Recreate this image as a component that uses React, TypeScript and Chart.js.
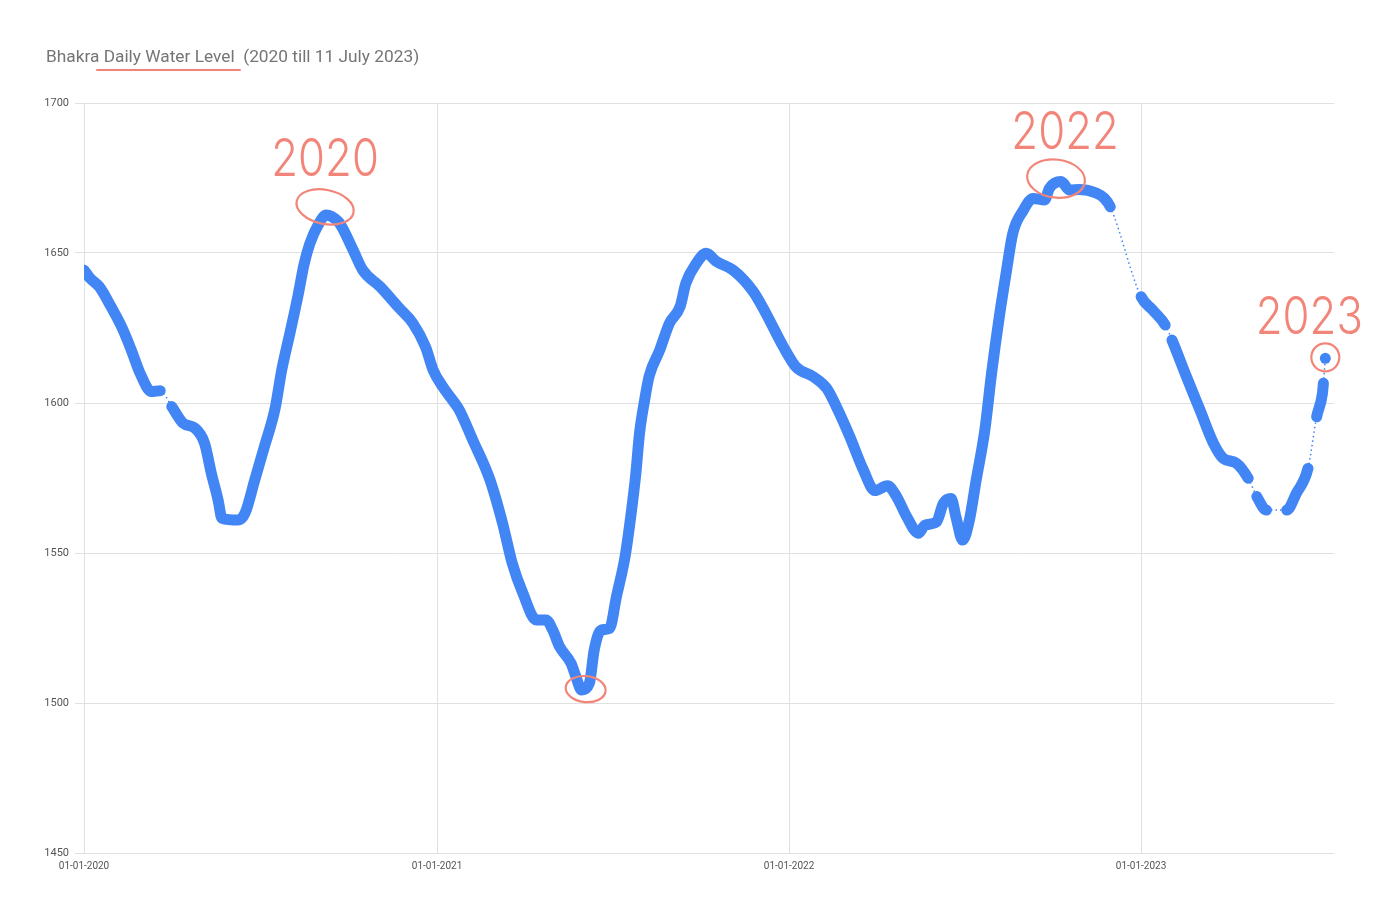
import { useEffect, useRef } from "react";
import { Chart, registerables } from "chart.js";

Chart.register(...registerables);

// ---- data ----
const dates = [
  "2020-01-01", "2020-01-07", "2020-01-17", "2020-01-29", "2020-02-09", "2020-02-19", "2020-02-28",
  "2020-03-11", "2020-03-20", "2020-04-01", "2020-04-13", "2020-04-25", "2020-05-05", "2020-05-12",
  "2020-05-19", "2020-05-23", "2020-06-09", "2020-06-16", "2020-06-26", "2020-07-06", "2020-07-17",
  "2020-07-24", "2020-08-02", "2020-08-10", "2020-08-16", "2020-08-22", "2020-08-31", "2020-09-08",
  "2020-09-13", "2020-09-22", "2020-10-06", "2020-10-16", "2020-11-03", "2020-11-23", "2020-12-07",
  "2020-12-20", "2020-12-28", "2021-01-07", "2021-01-17", "2021-01-24", "2021-02-07", "2021-02-25",
  "2021-03-10", "2021-03-20", "2021-03-31", "2021-04-14", "2021-04-24", "2021-05-01", "2021-05-08",
  "2021-05-20", "2021-05-25", "2021-05-31", "2021-06-08", "2021-06-13", "2021-06-20", "2021-06-29",
  "2021-07-06", "2021-07-15", "2021-07-20", "2021-07-26", "2021-07-30", "2021-08-04", "2021-08-09",
  "2021-08-20", "2021-08-30", "2021-09-10", "2021-09-16", "2021-09-27", "2021-10-07", "2021-10-18",
  "2021-11-04", "2021-11-25", "2021-12-08", "2021-12-26", "2022-01-08", "2022-01-26", "2022-02-09",
  "2022-02-19", "2022-03-05", "2022-03-19", "2022-03-31", "2022-04-13", "2022-04-22", "2022-05-03",
  "2022-05-15", "2022-05-22", "2022-06-03", "2022-06-10", "2022-06-18", "2022-06-23", "2022-06-30",
  "2022-07-07", "2022-07-14", "2022-07-23", "2022-07-30", "2022-08-07", "2022-08-14", "2022-08-21",
  "2022-09-01", "2022-09-11", "2022-09-23", "2022-09-28", "2022-10-10", "2022-10-19", "2022-10-29",
  "2022-11-16", "2022-11-24", "2022-11-30", "2023-01-01", "2023-01-13", "2023-01-26", "2023-02-02",
  "2023-02-17", "2023-03-03", "2023-03-17", "2023-03-27", "2023-04-10", "2023-04-22", "2023-05-01",
  "2023-05-11", "2023-06-01", "2023-06-11", "2023-06-23", "2023-07-02", "2023-07-08", "2023-07-09",
  "2023-07-11",
];

const levels = [
  1644.3, 1641.7, 1638.7, 1632.1, 1625.4, 1617.7, 1610.0,
  1603.8, 1604.1, 1598.8, 1593.2, 1591.6, 1586.6, 1576.6,
  1567.7, 1561.6, 1561.0, 1563.3, 1574.3, 1585.4, 1598.0,
  1611.0, 1624.0, 1636.0, 1646.0, 1653.0, 1659.5, 1662.7,
  1662.3, 1659.9, 1651.0, 1644.3, 1638.8, 1631.6, 1626.6,
  1618.8, 1611.0, 1605.4, 1601.0, 1597.7, 1587.7, 1574.3,
  1559.9, 1546.6, 1536.6, 1527.7, 1527.7, 1524.3, 1518.8,
  1513.2, 1508.8, 1504.3, 1506.6, 1517.7, 1524.3, 1524.9,
  1535.4, 1548.8, 1560.0, 1576.0, 1590.0, 1600.5, 1609.0,
  1617.7, 1626.6, 1632.1, 1639.9, 1646.6, 1649.9, 1647.1,
  1644.3, 1637.1, 1629.9, 1618.8, 1612.1, 1608.8, 1604.9,
  1598.8, 1588.8, 1577.7, 1570.8, 1572.4, 1569.1, 1562.1,
  1556.6, 1559.3, 1560.4, 1566.6, 1568.2, 1562.1, 1554.3,
  1561.0, 1574.3, 1591.0, 1610.0, 1628.8, 1643.2, 1656.6,
  1664.3, 1668.2, 1667.7, 1671.6, 1673.8, 1671.0, 1671.2,
  1669.9, 1668.2, 1665.4, 1635.4, 1631.0, 1626.0, 1621.0,
  1608.8, 1597.7, 1586.6, 1581.6, 1579.9, 1574.9, 1568.8,
  1564.3, 1564.3, 1569.9, 1578.2, 1595.4, 1603.2, 1606.6,
  1614.9,
];

// last reading before a stretch of missing days (drawn dotted)
const gapStarts = ["2020-03-20", "2022-11-30", "2023-01-26", "2023-04-22", "2023-05-11", "2023-06-23", "2023-07-09"];

const tickDates = ["2020-01-01", "2021-01-01", "2022-01-01", "2023-01-01"];
const tickLabels = ["01-01-2020", "01-01-2021", "01-01-2022", "01-01-2023"];
const yTicks = [1450, 1500, 1550, 1600, 1650, 1700];
const axisEndDate = "2023-07-20";

const markedDates = ["2020-09-08", "2021-05-31", "2022-10-10", "2023-07-11"];
const markedLabels = ["2020", "", "2022", "2023"];

const titleMain = "Bhakra ";
const titleUnderlined = "Daily Water Level";
const titleRest = "  (2020 till 11 July 2023)";

// ---- styles ----
const BLUE = "#4285F4";
const SALMON = "#F2857A";
const GRID = "#e0e0e0";
const markStyle = [
  { dx: -1, dy: -8, rx: 29, ry: 17, rot: 0.2, tx: 0, ty: -50 },
  { dx: 4, dy: -1, rx: 20, ry: 13, rot: 0.1, tx: 0, ty: 0 },
  { dx: -5, dy: -3, rx: 29, ry: 19, rot: 0.12, tx: 9, ty: -49 },
  { dx: 0, dy: -1, rx: 14, ry: 14, rot: 0, tx: -16, ty: -42 },
];

const DAY = 86400000;
const toDay = (s: string) => Math.round((Date.parse(s) - Date.parse("2020-01-01")) / DAY);

export default function App() {
  const ref = useRef<HTMLCanvasElement | null>(null);

  useEffect(() => {
    const canvas = ref.current;
    if (!canvas) return;
    const days = dates.map(toDay);
    const gapSet = new Set(gapStarts.map(toDay));
    const tickDays = tickDates.map(toDay);
    const points = days.map((d, i) => ({ x: d, y: levels[i] }));
    const isGapSeg = (i0: number) => gapSet.has(days[i0]);
    const isolated = (i: number) =>
      (i === 0 || isGapSeg(i - 1)) && (i === days.length - 1 || isGapSeg(i));

    const annotPlugin = {
      id: "handAnnotations",
      afterDatasetsDraw(chart: any) {
        const { ctx, scales } = chart;
        const xs = scales.x;
        const ys = scales.y;
        markedDates.forEach((d, i) => {
          const idx = dates.indexOf(d);
          if (idx < 0) return;
          const px = xs.getPixelForValue(days[idx]);
          const py = ys.getPixelForValue(levels[idx]);
          const s = markStyle[i];
          const cx = px + s.dx;
          const cy = py + s.dy;
          ctx.save();
          ctx.strokeStyle = SALMON;
          ctx.lineWidth = 2.2;
          ctx.beginPath();
          ctx.ellipse(cx, cy, s.rx, s.ry, s.rot, 0, Math.PI * 2);
          ctx.stroke();
          const label = markedLabels[i];
          if (label) {
            ctx.translate(cx + s.tx, cy + s.ty);
            ctx.scale(0.84, 1);
            ctx.fillStyle = SALMON;
            ctx.font = '300 52px Inter, "Open Sans", sans-serif';
            ctx.textAlign = "center";
            ctx.textBaseline = "alphabetic";
            ctx.fillText(label, 0, 19);
          }
          ctx.restore();
        });
      },
    };

    const chart = new Chart(canvas, {
      type: "line",
      data: {
        datasets: [
          {
            data: points,
            borderColor: BLUE,
            backgroundColor: BLUE,
            borderWidth: 11,
            borderCapStyle: "round",
            borderJoinStyle: "round",
            pointRadius: (ctx: any) => (isolated(ctx.dataIndex) ? 5.5 : 0),
            pointBorderWidth: 0,
            pointBackgroundColor: BLUE,
            cubicInterpolationMode: "monotone",
            segment: {
              borderWidth: (ctx: any) => (isGapSeg(ctx.p0DataIndex) ? 1.5 : undefined),
              borderDash: (ctx: any) => (isGapSeg(ctx.p0DataIndex) ? [1.5, 3] : undefined),
              borderCapStyle: (ctx: any) => (isGapSeg(ctx.p0DataIndex) ? "butt" : undefined),
            },
          } as any,
        ],
      },
      options: {
        responsive: false,
        animation: false,
        events: [],
        layout: { padding: { top: 103, right: 46, bottom: 0, left: 0 } },
        plugins: {
          legend: { display: false },
          tooltip: { enabled: false },
          title: { display: false },
        },
        scales: {
          x: {
            type: "linear",
            min: 0,
            max: toDay(axisEndDate),
            afterBuildTicks: (s: any) => {
              s.ticks = tickDays.map((v) => ({ value: v }));
            },
            afterFit: (s: any) => {
              s.height = 64;
            },
            ticks: {
              callback: (v: any) => {
                const k = tickDays.indexOf(Number(v));
                return k >= 0 ? tickLabels[k] : "";
              },
              maxRotation: 0,
              autoSkip: false,
              padding: 7,
              font: { family: "Roboto", size: 10 },
              color: "#555",
            },
            grid: { color: GRID, drawTicks: false },
            border: { display: false },
          },
          y: {
            min: 1450,
            max: 1700,
            afterBuildTicks: (s: any) => {
              s.ticks = yTicks.map((v) => ({ value: v }));
            },
            afterFit: (s: any) => {
              s.width = 84;
            },
            ticks: {
              callback: (v: any) => String(v),
              padding: 6,
              font: { family: "Roboto", size: 11 },
              color: "#555",
            },
            grid: { color: GRID, tickLength: 9 },
            border: { display: false },
          },
        },
      } as any,
      plugins: [annotPlugin],
    });
    return () => chart.destroy();
  }, []);

  return (
    <div style={{ position: "absolute", left: 0, top: 0, width: 1380, height: 917, background: "#fff" }}>
      <canvas ref={ref} width={1380} height={917} style={{ position: "absolute", left: 0, top: 0 }} />
      <div
        style={{
          position: "absolute",
          left: 46,
          top: 46,
          font: "17.3px Roboto, sans-serif",
          lineHeight: "20px",
          color: "#757575",
          whiteSpace: "pre",
        }}
      >
        {titleMain}
        <span style={{ position: "relative" }}>
          {titleUnderlined}
          <span
            style={{
              position: "absolute",
              left: -8,
              right: -6,
              bottom: -5,
              height: 2.5,
              borderRadius: 2,
              background: SALMON,
            }}
          />
        </span>
        {titleRest}
      </div>
    </div>
  );
}
